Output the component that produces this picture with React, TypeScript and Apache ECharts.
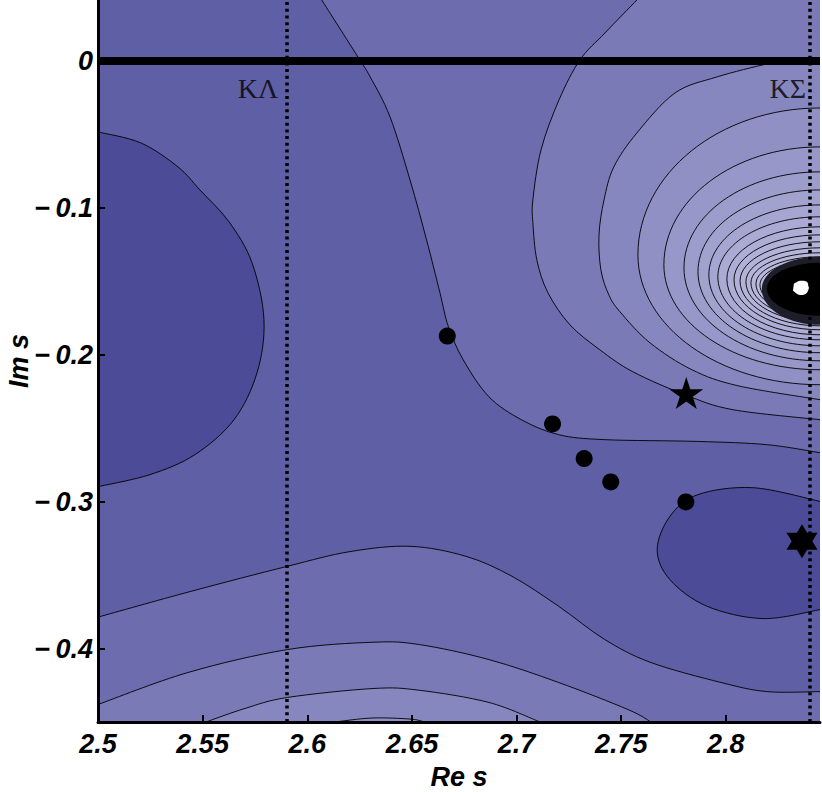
import React, { useEffect, useRef } from "react";
import * as echarts from "echarts";

// ---------- axes ----------
const X_MIN = 2.5;
const X_MAX = 2.845;
const Y_MIN = -0.45;
const Y_MAX = 0.0415;

const xTickValues = [2.5, 2.55, 2.6, 2.65, 2.7, 2.75, 2.8];
const xTickLabels = ["2.5", "2.55", "2.6", "2.65", "2.7", "2.75", "2.8"];
const yTickValues = [0, -0.1, -0.2, -0.3, -0.4];
const yTickLabels = ["0", "\u2212\u20090.1", "\u2212\u20090.2", "\u2212\u20090.3", "\u2212\u20090.4"];

// ---------- thresholds ----------
const thresholdNames = ["K\u039b", "K\u03a3"];
const thresholdRe = [2.59, 2.8436];
const thresholdLabelIm = -0.0187;

// ---------- markers ----------
const dotRe = [2.6669, 2.7172, 2.7323, 2.745, 2.7809];
const dotIm = [-0.1873, -0.2471, -0.2707, -0.2866, -0.3002];
const starRe = [2.7811];
const starIm = [-0.226];
const hexRe = [2.8364];
const hexIm = [-0.327];

// ---------- traced contour lines [Re s, Im s] ----------
const contourA = [
  [2.6069, 0.0415], [2.6236, 0.0041], [2.63, -0.0107],
  [2.6395, -0.0379], [2.6491, -0.081], [2.657, -0.1218], [2.6634, -0.1578], [2.6674, -0.1807],
  [2.6745, -0.2034], [2.6868, -0.2286], [2.7023, -0.2442], [2.7201, -0.2544], [2.7422, -0.2578],
  [2.7865, -0.259], [2.8196, -0.2612], [2.845, -0.2667],
];
const contourB = [
  [2.7575, 0.0415], [2.7422, 0.019], [2.7303, 0.0007], [2.7203, -0.0265], [2.7117, -0.0605],
  [2.7078, -0.0946], [2.7078, -0.11], [2.7097, -0.1354], [2.715, -0.1578], [2.7255, -0.1796],
  [2.7398, -0.1966], [2.7556, -0.2116], [2.7805, -0.2272], [2.8034, -0.2374], [2.845, -0.2442],
];
const contourC = [
  [2.8282, 0], [2.8196, -0.002], [2.7957, -0.0109], [2.7757, -0.0218], [2.7575, -0.049],
  [2.7465, -0.0721], [2.7418, -0.0946], [2.7394, -0.1184], [2.7403, -0.1422], [2.7441, -0.1592],
  [2.7494, -0.1707], [2.7637, -0.1918], [2.7838, -0.2102], [2.8058, -0.2211], [2.845, -0.2306],
];
const leftOval = [
  [2.5, -0.0483], [2.5205, -0.0558], [2.5382, -0.0721], [2.5487, -0.0878], [2.5626, -0.1095],
  [2.5736, -0.1374], [2.5793, -0.1762], [2.576, -0.2122], [2.565, -0.2442], [2.5463, -0.268],
  [2.5248, -0.2816], [2.5, -0.2898],
];
const lowerRightOval = [
  [2.845, -0.2998], [2.813, -0.2905], [2.7867, -0.2952], [2.7733, -0.31], [2.7672, -0.3327],
  [2.7733, -0.3531], [2.791, -0.3712], [2.8177, -0.3796], [2.845, -0.3735],
];
const lowerLine1 = [
  [2.5, -0.3786], [2.544, -0.3612], [2.5905, -0.344], [2.6204, -0.334], [2.6491, -0.3304],
  [2.6758, -0.3372], [2.6978, -0.3508], [2.7201, -0.3712], [2.7422, -0.3939], [2.7642, -0.4095],
  [2.7977, -0.4231], [2.8196, -0.4293], [2.845, -0.4293],
];
const lowerLine2 = [
  [2.5, -0.4381], [2.543, -0.4163], [2.5905, -0.4007], [2.6314, -0.3957], [2.6536, -0.3973],
  [2.6868, -0.4075], [2.7201, -0.4231], [2.7532, -0.4415], [2.7642, -0.45],
];
const lowerLine3 = [
  [2.5516, -0.45], [2.5702, -0.4408], [2.5905, -0.4333], [2.6314, -0.4272], [2.6536, -0.4284],
  [2.6868, -0.4367], [2.7112, -0.45],
];
const lowerLine4 = [
  [2.6132, -0.45], [2.6309, -0.4473], [2.6491, -0.448], [2.6562, -0.45],
];

// nested contours around the pole: [Re of leftmost point, Im where it meets the right edge (upper),
// Im of leftmost point, Im where it meets the right edge (lower)]
const poleRings = [
  [2.758, -0.032, -0.132, -0.2204],
  [2.7704, -0.0585, -0.1388, -0.2102],
  [2.78, -0.0755, -0.1408, -0.2041],
  [2.7867, -0.0878, -0.1435, -0.1986],
  [2.7919, -0.098, -0.1456, -0.1939],
  [2.7962, -0.1061, -0.1469, -0.1898],
  [2.8005, -0.1129, -0.1483, -0.1864],
  [2.8039, -0.1184, -0.149, -0.183],
  [2.8068, -0.1231, -0.1497, -0.1803],
  [2.8096, -0.1272, -0.1503, -0.1776],
  [2.812, -0.1306, -0.151, -0.1755],
  [2.8144, -0.1333, -0.1517, -0.1735],
  [2.8163, -0.1354, -0.1524, -0.1721],
];
const poleHalo = [2.8172, -0.1333, -0.1551, -0.1796];
const poleCore = [2.8196, -0.1374, -0.1551, -0.1735];
const poleSpot = [
  [2.8325, -0.1517], [2.8354, -0.1497], [2.8387, -0.1503], [2.8397, -0.1544],
  [2.8383, -0.1585], [2.8349, -0.1592], [2.8321, -0.1565],
];

// ---------- palette ----------
const SHADE_DARK = "#4b4b97";
const SHADE_BASE = "#5f5fa6";
const SHADE_1 = "#6c6cae";
const SHADE_2 = "#7a7ab7";
const SHADE_3 = "#8787bf";
const SHADE_4 = "#9090c4";
const ringShades = [
  "#9090c4", "#9797c9", "#9d9dcc", "#a2a2cf", "#a6a6d2", "#aaaad4", "#adadd6",
  "#b0b0d8", "#b3b3d9", "#b5b5db", "#b7b7dc", "#b9b9dd", "#bbbbde",
];
const CONTOUR_STROKE = "rgba(0,0,0,0.9)";

const STAR_PATH =
  "path://M50,0 L61.23,34.55 L97.55,34.55 L68.16,55.9 L79.39,90.45 L50,69.1 L20.61,90.45 L31.84,55.9 L2.45,34.55 L38.77,34.55 Z";
const HEX_PATH = "path://M50,0 L93.3,75 L6.7,75 Z M50,100 L6.7,25 L93.3,25 Z";

const axisFont = {
  fontFamily: "Liberation Sans, Arial, sans-serif",
  fontSize: 27,
  fontWeight: "bold" as const,
  fontStyle: "italic" as const,
  color: "#000",
};

function renderContours(_params: any, api: any) {
  const c = (p: number[]) => api.coord(p) as number[];
  const f = (n: number) => n.toFixed(2);
  const smooth = (data: number[][]) => {
    const pts = data.map(c);
    let d = `M${f(pts[0][0])},${f(pts[0][1])}`;
    for (let i = 0; i < pts.length - 1; i++) {
      const p0 = pts[i - 1] || pts[i];
      const p1 = pts[i];
      const p2 = pts[i + 1];
      const p3 = pts[i + 2] || p2;
      const c1x = p1[0] + (p2[0] - p0[0]) / 6;
      const c1y = p1[1] + (p2[1] - p0[1]) / 6;
      const c2x = p2[0] - (p3[0] - p1[0]) / 6;
      const c2y = p2[1] - (p3[1] - p1[1]) / 6;
      d += ` C${f(c1x)},${f(c1y)} ${f(c2x)},${f(c2y)} ${f(p2[0])},${f(p2[1])}`;
    }
    return d;
  };
  const to = (x: number, y: number) => {
    const p = c([x, y]);
    return ` L${f(p[0])},${f(p[1])}`;
  };
  const ring = (r: number[], close: boolean) => {
    const [xl, yt, ym, yb] = r;
    const pT = c([X_MAX, yt]);
    const pL = c([xl, ym]);
    const pB = c([X_MAX, yb]);
    const k = 0.5523;
    const a = pT[0] - pL[0];
    const bt = pL[1] - pT[1];
    const bb = pB[1] - pL[1];
    return (
      `M${f(pT[0])},${f(pT[1])} C${f(pT[0] - k * a)},${f(pT[1])} ${f(pL[0])},${f(pL[1] - k * bt)} ${f(pL[0])},${f(pL[1])}` +
      ` C${f(pL[0])},${f(pL[1] + k * bb)} ${f(pB[0] - k * a)},${f(pB[1])} ${f(pB[0])},${f(pB[1])}` +
      (close ? " Z" : "")
    );
  };
  const fillEl = (d: string, color: string) => ({
    type: "path",
    shape: { pathData: d },
    style: { fill: color, stroke: "none" },
  });
  const lineEl = (d: string, w = 1) => ({
    type: "path",
    shape: { pathData: d },
    style: { fill: "none", stroke: CONTOUR_STROKE, lineWidth: w },
  });

  const children: any[] = [];
  const tl = c([X_MIN, Y_MAX]);
  const br = c([X_MAX, Y_MIN]);
  children.push({
    type: "rect",
    shape: { x: tl[0], y: tl[1], width: br[0] - tl[0], height: br[1] - tl[1] },
    style: { fill: SHADE_BASE },
  });

  const dA = smooth(contourA);
  const dB = smooth(contourB);
  const dC = smooth(contourC);
  const dLeft = smooth(leftOval);
  const dLR = smooth(lowerRightOval);
  const d1 = smooth(lowerLine1);
  const d2 = smooth(lowerLine2);
  const d3 = smooth(lowerLine3);
  const d4 = smooth(lowerLine4);

  children.push(fillEl(dA + to(X_MAX, Y_MAX) + " Z", SHADE_1));
  children.push(fillEl(dB + to(X_MAX, Y_MAX) + " Z", SHADE_2));
  children.push(fillEl(dC + to(X_MAX, 0) + " Z", SHADE_3));
  poleRings.forEach((r, i) => children.push(fillEl(ring(r, true), ringShades[i])));
  children.push(fillEl(dLeft + " Z", SHADE_DARK));
  children.push(fillEl(dLR + " Z", SHADE_DARK));
  children.push(fillEl(d1 + to(X_MAX, Y_MIN) + to(X_MIN, Y_MIN) + " Z", SHADE_1));
  children.push(fillEl(d2 + to(X_MIN, Y_MIN) + " Z", SHADE_2));
  children.push(fillEl(d3 + " Z", SHADE_3));
  children.push(fillEl(d4 + " Z", SHADE_4));

  [dA, dB, dC, dLeft, dLR, d1, d2, d3, d4].forEach((d) => children.push(lineEl(d)));
  poleRings.forEach((r) => children.push(lineEl(ring(r, false))));

  children.push(fillEl(ring(poleHalo, true), "#1e1e2a"));
  children.push(fillEl(ring(poleCore, true), "#000000"));
  children.push(fillEl(smooth(poleSpot) + " Z", "#ffffff"));

  return { type: "group", children };
}

export default function App() {
  const ref = useRef<HTMLDivElement>(null);
  useEffect(() => {
    if (!ref.current) return;
    const chart = echarts.init(ref.current, undefined, { renderer: "svg" });
    const findLabel = (vals: number[], labels: string[]) => (v: number) => {
      const i = vals.findIndex((t) => Math.abs(t - v) < 1e-6);
      return i >= 0 ? labels[i] : "";
    };
    const solid = { color: "#000", opacity: 1 };
    chart.setOption({
      animation: false,
      backgroundColor: "#ffffff",
      grid: {
        left: 98,
        top: 0,
        width: 722,
        height: 722,
        containLabel: false,
        outerBoundsMode: "none",
      },
      xAxis: {
        type: "value",
        min: X_MIN,
        max: X_MAX,
        z: 10,
        axisLine: { show: true, onZero: false, lineStyle: { color: "#000", width: 3 } },
        axisTick: {
          show: true,
          inside: true,
          length: 7,
          customValues: xTickValues,
          lineStyle: { color: "#000", width: 2 },
        },
        axisLabel: {
          ...axisFont,
          customValues: xTickValues,
          margin: 8,
          formatter: findLabel(xTickValues, xTickLabels),
        },
        splitLine: { show: false },
        name: "Re s",
        nameLocation: "middle",
        nameGap: 55,
        nameMoveOverlap: false,
        nameTextStyle: { ...axisFont, verticalAlign: "middle", lineHeight: 24 },
      },
      yAxis: {
        type: "value",
        min: Y_MIN,
        max: Y_MAX,
        z: 10,
        axisLine: { show: true, onZero: false, lineStyle: { color: "#000", width: 3 } },
        axisTick: {
          show: true,
          inside: true,
          length: 7,
          customValues: yTickValues,
          lineStyle: { color: "#000", width: 2 },
        },
        axisLabel: {
          ...axisFont,
          customValues: yTickValues,
          margin: 5,
          formatter: findLabel(yTickValues, yTickLabels),
        },
        splitLine: { show: false },
        name: "Im s",
        nameLocation: "middle",
        nameGap: 79,
        nameMoveOverlap: false,
        nameTextStyle: { ...axisFont, verticalAlign: "middle", lineHeight: 24 },
      },
      series: [
        {
          type: "custom",
          coordinateSystem: "cartesian2d",
          data: [[2.6, -0.2]],
          encode: { x: 0, y: 1 },
          renderItem: renderContours,
          clip: true,
          silent: true,
          z: 1,
        },
        {
          type: "line",
          data: [],
          z: 4,
          silent: true,
          markLine: {
            silent: true,
            symbol: ["none", "none"],
            label: { show: false },
            data: [
              { yAxis: 0, lineStyle: { color: "#000", width: 8, type: "solid" } },
              ...thresholdRe.map((x) => ({
                xAxis: x,
                lineStyle: { color: "#000", width: 3.5, type: [3, 3.7] },
              })),
            ],
          },
        },
        {
          type: "scatter",
          z: 6,
          silent: true,
          symbolSize: 0,
          data: thresholdRe.map((x, i) => ({
            value: [x, thresholdLabelIm],
            label: { distance: i === 0 ? 8 : 11 },
          })),
          label: {
            show: true,
            position: "left",
            formatter: (p: any) => thresholdNames[p.dataIndex],
            fontFamily: "Liberation Serif, Times New Roman, serif",
            fontSize: 28,
            color: "#000",
          },
        },
        {
          type: "scatter",
          z: 8,
          silent: true,
          symbol: "circle",
          symbolSize: 17,
          itemStyle: solid,
          data: dotRe.map((x, i) => [x, dotIm[i]]),
        },
        {
          type: "scatter",
          z: 8,
          silent: true,
          symbol: STAR_PATH,
          symbolSize: [34, 32],
          itemStyle: solid,
          data: starRe.map((x, i) => [x, starIm[i]]),
        },
        {
          type: "scatter",
          z: 8,
          silent: true,
          symbol: HEX_PATH,
          symbolSize: [31, 34],
          itemStyle: solid,
          data: hexRe.map((x, i) => [x, hexIm[i]]),
        },
      ],
    });
    return () => chart.dispose();
  }, []);
  return (
    <div
      ref={ref}
      style={{ position: "absolute", left: 0, top: 0, width: 822, height: 792, background: "#fff" }}
    />
  );
}
